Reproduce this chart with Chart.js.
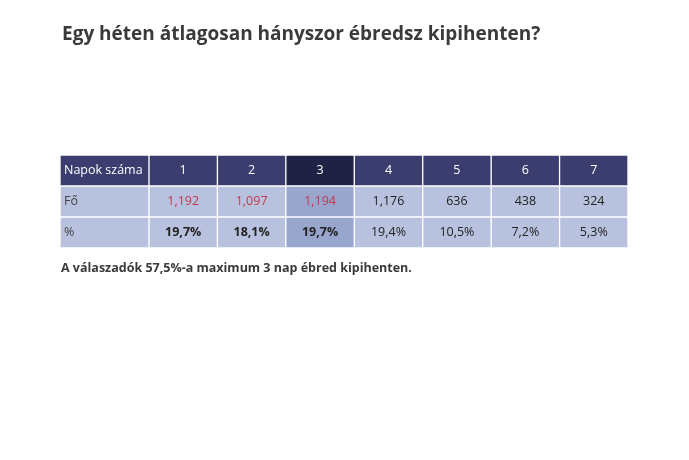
<!DOCTYPE html>
<html><head><meta charset="utf-8">
<script src="https://cdn.jsdelivr.net/npm/chart.js@4"></script>
<style>
body{margin:0;background:#fff;font-family:"Open Sans",sans-serif;}
#wrap{position:relative;width:689px;height:460px;}
#t{position:absolute;left:62px;top:20px;font-size:19px;font-weight:bold;color:#3a3a3a;}
#n{position:absolute;left:61px;top:259px;font-size:12.5px;font-weight:bold;color:#3a3a3a;}
canvas{position:absolute;left:0;top:0;}
</style></head><body>
<div id="wrap">
<canvas id="c" width="689" height="460"></canvas>
<div id="t">Egy héten átlagosan hányszor ébredsz kipihenten?</div>
<div id="n">A válaszadók 57,5%-a maximum 3 nap ébred kipihenten.</div>
</div>
<script>
const rowLabels = ["Napok száma", "Fő", "%"];
const days = ["1","2","3","4","5","6","7"];
const persons = ["1,192","1,097","1,194","1,176","636","438","324"];
const percents = ["19,7%","18,1%","19,7%","19,4%","10,5%","7,2%","5,3%"];

const cols = [rowLabels].concat(days.map((d,i)=>[d, persons[i], percents[i]]));
const hdr="#3b3d6e", hdrSel="#1f2145", body="#b8c1dd", bodySel="#98a5cd";
const datasets = cols.map((col,ci)=>({
  label: "c"+ci,
  data: [ci===0?1.3:1, ci===0?1.3:1, ci===0?1.3:1],
  texts: col,
  backgroundColor: [ci===3?hdrSel:hdr, ci===3?bodySel:body, ci===3?bodySel:body],
  borderColor:"#fff", borderWidth:1, borderSkipped:false,
  categoryPercentage:1, barPercentage:1
}));
const textPlugin = {
  id:"txt",
  afterDatasetsDraw(chart){
    const ctx=chart.ctx;
    chart.data.datasets.forEach((ds,ci)=>{
      chart.getDatasetMeta(ci).data.forEach((el,ri)=>{
        const left=el.base, right=el.x;
        ctx.save();
        ctx.textBaseline="middle";
        let color="#222", weight="normal";
        if(ri===0) color="#fff";
        if(ri===1 && ci>=1 && ci<=3) color="#c23a4e";
        if(ri===2 && ci>=1 && ci<=3) weight="bold";
        if(ci===0 && ri>0) color="#444";
        ctx.fillStyle=color;
        ctx.font=weight+" 12.5px 'Open Sans', sans-serif";
        if(ci===0){ctx.textAlign="left";ctx.fillText(ds.texts[ri],left+4,el.y);}
        else{ctx.textAlign="center";ctx.fillText(ds.texts[ri],(left+right)/2,el.y);}
        ctx.restore();
      });
    });
  }
};
new Chart(document.getElementById("c"),{
  type:"bar",
  data:{labels:rowLabels,datasets},
  options:{
    indexAxis:"y",responsive:false,animation:false,
    layout:{padding:{left:60,right:61,top:155,bottom:212}},
    plugins:{legend:{display:false},tooltip:{enabled:false},title:{display:false}},
    scales:{
      x:{stacked:true,display:false,min:0,max:8.3},
      y:{stacked:true,display:false}
    }
  },
  plugins:[textPlugin]
});
</script>
</body></html>
